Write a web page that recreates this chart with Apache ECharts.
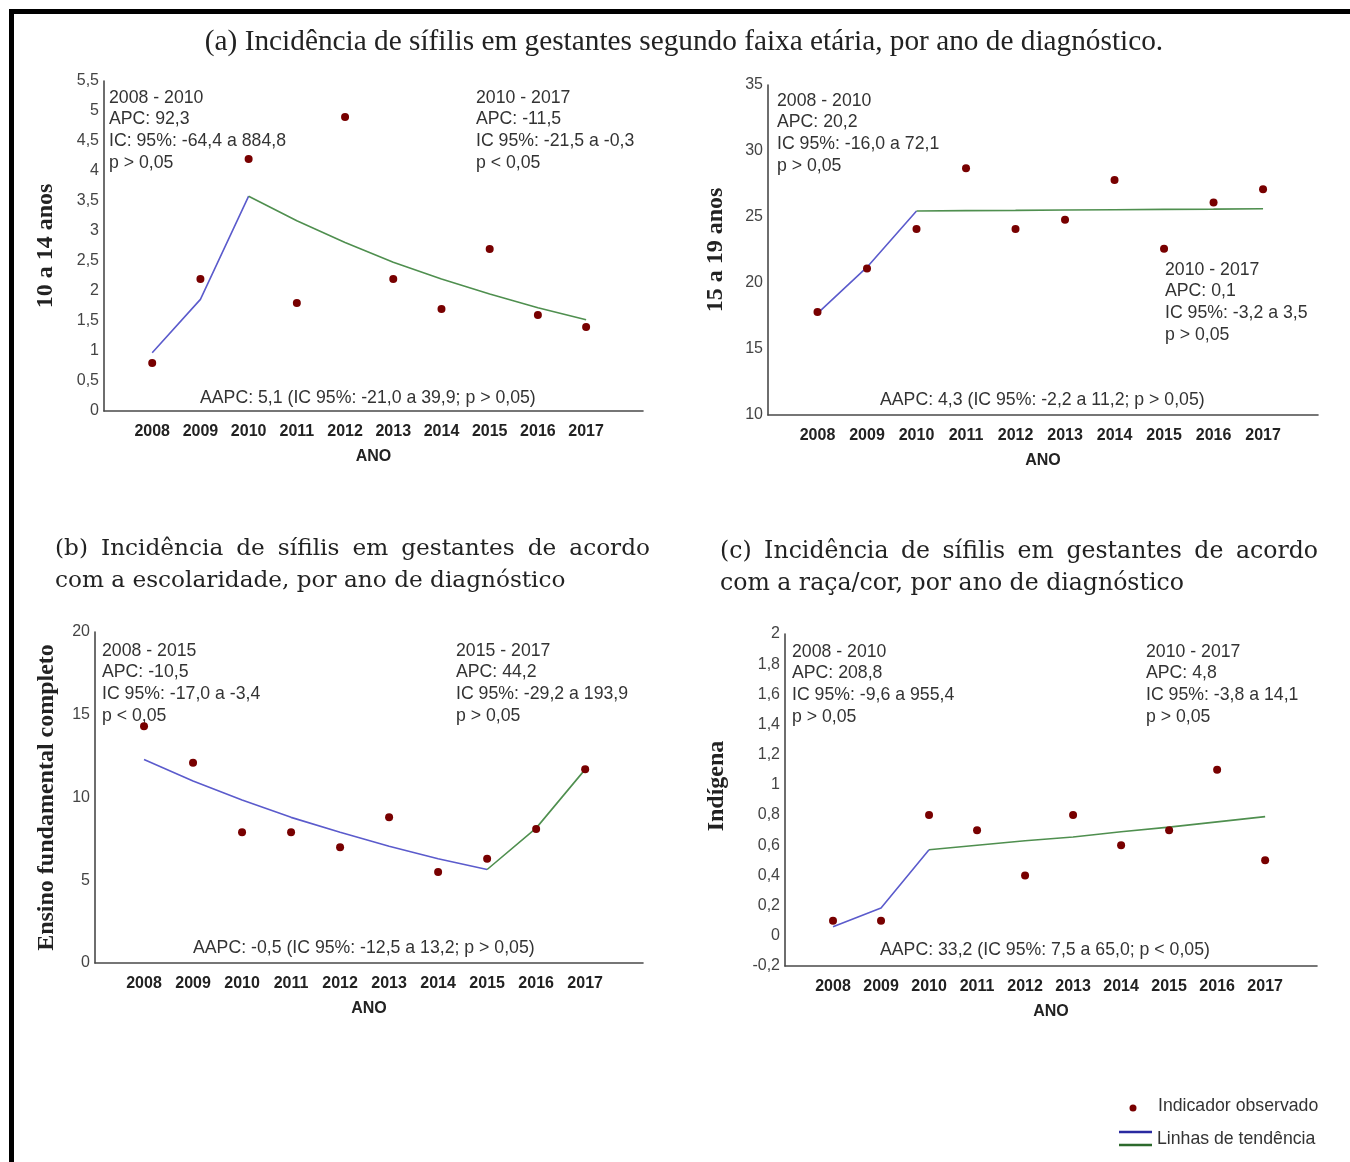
<!DOCTYPE html>
<html>
<head>
<meta charset="utf-8">
<title>Incidência de sífilis em gestantes</title>
<script src="https://cdn.jsdelivr.net/npm/echarts@6/dist/echarts.min.js"></script>
<style>
	html, body { margin: 0; padding: 0; background: #fff; }
	#chart { width: 1350px; height: 1162px; }
</style>
</head>
<body>
<div id="chart"></div>
<script>
// anos de diagnóstico
var years = [2008, 2009, 2010, 2011, 2012, 2013, 2014, 2015, 2016, 2017];
var yearLabels = ['2008', '2009', '2010', '2011', '2012', '2013', '2014', '2015', '2016', '2017'];

// (a) 10 a 14 anos
var idade1014 = [0.8, 2.2, 4.2, 1.8, 4.9, 2.2, 1.7, 2.7, 1.6, 1.4];
var idade1014TrendA = [0.97, 1.86, 3.58];                                  // 2008 - 2010
var idade1014TrendB = [3.58, 3.17, 2.81, 2.48, 2.2, 1.95, 1.72, 1.52];     // 2010 - 2017

// (a) 15 a 19 anos
var idade1519 = [17.8, 21.1, 24.1, 28.7, 24.1, 24.8, 27.8, 22.6, 26.1, 27.1];
var idade1519TrendA = [17.7, 21.2, 25.45];
var idade1519TrendB = [25.45, 25.48, 25.5, 25.53, 25.55, 25.58, 25.6, 25.63];

// (b) ensino fundamental completo
var fundamental = [14.3, 12.1, 7.9, 7.9, 7.0, 8.8, 5.5, 6.3, 8.1, 11.7];
var fundamentalTrendA = [12.3, 11.0, 9.85, 8.8, 7.9, 7.05, 6.3, 5.65];     // 2008 - 2015
var fundamentalTrendB = [5.65, 8.15, 11.7];                               // 2015 - 2017

// (c) indígena
var indigena = [0.1, 0.1, 0.8, 0.7, 0.4, 0.8, 0.6, 0.7, 1.1, 0.5];
var indigenaTrendA = [0.06, 0.185, 0.57];
var indigenaTrendB = [0.57, 0.6, 0.63, 0.655, 0.69, 0.72, 0.755, 0.79];

// textos dos segmentos
var notes1014 = {
	left: ['2008 - 2010', 'APC: 92,3', 'IC: 95%: -64,4 a 884,8', 'p > 0,05'],
	right: ['2010 - 2017', 'APC: -11,5', 'IC 95%: -21,5 a -0,3', 'p < 0,05'],
	aapc: 'AAPC: 5,1 (IC 95%: -21,0 a 39,9; p > 0,05)'
};
var notes1519 = {
	left: ['2008 - 2010', 'APC: 20,2', 'IC 95%: -16,0 a 72,1', 'p > 0,05'],
	right: ['2010 - 2017', 'APC: 0,1', 'IC 95%: -3,2 a 3,5', 'p > 0,05'],
	aapc: 'AAPC: 4,3 (IC 95%: -2,2 a 11,2; p > 0,05)'
};
var notesFund = {
	left: ['2008 - 2015', 'APC: -10,5', 'IC 95%: -17,0 a -3,4', 'p < 0,05'],
	right: ['2015 - 2017', 'APC: 44,2', 'IC 95%: -29,2 a 193,9', 'p > 0,05'],
	aapc: 'AAPC: -0,5 (IC 95%: -12,5 a 13,2; p > 0,05)'
};
var notesInd = {
	left: ['2008 - 2010', 'APC: 208,8', 'IC 95%: -9,6 a 955,4', 'p > 0,05'],
	right: ['2010 - 2017', 'APC: 4,8', 'IC 95%: -3,8 a 14,1', 'p > 0,05'],
	aapc: 'AAPC: 33,2 (IC 95%: 7,5 a 65,0; p < 0,05)'
};

var titleA = '(a) Incidência de sífilis em gestantes segundo faixa etária, por ano de diagnóstico.';
var titleB = ['(b) Incidência de sífilis em gestantes de acordo', 'com a escolaridade, por ano de diagnóstico'];
var titleC = ['(c) Incidência de sífilis em gestantes de acordo', 'com a raça/cor, por ano de diagnóstico'];
var legendLabels = ['Indicador observado', 'Linhas de tendência'];

(function(){
	var DOT = '#780000', BLUE = '#5b5bcc', GREEN = '#4f8f4f';
	var SANS = '"Liberation Sans", Arial, sans-serif';
	var SERIF = '"Liberation Serif", "Times New Roman", serif';
	var BOOK = '"DejaVu Serif", serif';
	var NOTE_FONT = '17.7px ' + SANS;

	var measureCtx = document.createElement('canvas').getContext('2d');
	function measure(str, font){
		measureCtx.font = font;
		return measureCtx.measureText(str).width;
	}
	// tamanho de fonte que faz o texto ocupar a largura pedida
	function fitSize(str, family, weight, width){
		return Math.round(20 * width / measure(str, weight + ' 20px ' + family) * 10) / 10;
	}

	function txt(str, x, y, font, fill, align){
		return {
			type: 'text', silent: true,
			style: {
				text: str, x: x, y: y, font: font, fill: fill || '#333',
				align: align || 'left', textAlign: align || 'left',
				verticalAlign: 'middle', textVerticalAlign: 'middle'
			}
		};
	}
	function noteBlock(lines, x, y0){
		return lines.map(function(l, i){ return txt(l, x, y0 + i * 21.6, NOTE_FONT, '#333'); });
	}
	function justified(str, font, x0, x1, y){
		var words = str.split(' ');
		var widths = words.map(function(w){ return measure(w, font); });
		var sum = widths.reduce(function(a, b){ return a + b; }, 0);
		var gap = (x1 - x0 - sum) / (words.length - 1);
		var x = x0, out = [];
		words.forEach(function(w, i){
			out.push(txt(w, x, y, font, '#222'));
			x += widths[i] + gap;
		});
		return out;
	}
	function pairs(xs, ys){
		return ys.map(function(v, i){ return [xs[i], v]; });
	}
	function comma(v){
		return String(Math.round(v * 10) / 10).replace('.', ',');
	}

	var panels = [
		{ grid: { left: 104, top: 81, width: 539, height: 330 }, xmax: 2018.18, y: [0, 5.5, 0.5], name: '10 a 14 anos', nameGap: 46, namePad: 0,
		  obs: idade1014, a: idade1014TrendA, b: idade1014TrendB, split: 3 },
		{ grid: { left: 768, top: 85, width: 550, height: 330 }, xmax: 2018.11, y: [10, 35, 5], name: '15 a 19 anos', nameGap: 40, namePad: 0,
		  obs: idade1519, a: idade1519TrendA, b: idade1519TrendB, split: 3 },
		{ grid: { left: 95, top: 632, width: 548, height: 331 }, xmax: 2018.18, y: [0, 20, 5], name: 'Ensino fundamental completo', nameGap: 36, namePad: 0,
		  obs: fundamental, a: fundamentalTrendA, b: fundamentalTrendB, split: 8 },
		{ grid: { left: 785, top: 634, width: 532, height: 332 }, xmax: 2018.08, y: [-0.2, 2, 0.2], name: 'Indígena', nameGap: 56, namePad: 28,
		  obs: indigena, a: indigenaTrendA, b: indigenaTrendB, split: 3 }
	];

	var grids = [], xAxes = [], yAxes = [], series = [];
	panels.forEach(function(p, i){
		grids.push(Object.assign({ outerBoundsMode: 'none', containLabel: false }, p.grid));
		xAxes.push({
			type: 'value', gridIndex: i, min: 2007, max: p.xmax, interval: 1,
			axisLine: { show: true, onZero: false, lineStyle: { color: '#4a4a4a', width: 1.6 } },
			axisTick: { show: false }, splitLine: { show: false },
			axisLabel: {
				margin: 13, fontSize: 16, fontWeight: 'bold', fontFamily: SANS, color: '#222',
				showMinLabel: true, showMaxLabel: true,
				formatter: function(v){ var k = years.indexOf(v); return k < 0 ? '' : yearLabels[k]; }
			},
			name: 'ANO', nameLocation: 'middle', nameGap: 38,
			nameTextStyle: { fontSize: 16, fontWeight: 'bold', fontFamily: SANS, color: '#222' }
		});
		yAxes.push({
			type: 'value', gridIndex: i, min: p.y[0], max: p.y[1], interval: p.y[2],
			axisLine: { show: true, onZero: false, lineStyle: { color: '#4a4a4a', width: 1.6 } },
			axisTick: { show: false }, splitLine: { show: false },
			axisLabel: { margin: 5, fontSize: 16, fontFamily: SANS, color: '#444', formatter: comma },
			name: p.name, nameLocation: 'middle', nameGap: p.nameGap,
			nameTextStyle: { fontSize: 24, fontWeight: 'bold', fontFamily: SERIF, color: '#222', padding: [0, 0, 0, p.namePad] }
		});
		series.push({
			type: 'line', xAxisIndex: i, yAxisIndex: i, showSymbol: false, silent: true,
			lineStyle: { color: BLUE, width: 1.6 }, data: pairs(years, p.a)
		});
		series.push({
			type: 'line', xAxisIndex: i, yAxisIndex: i, showSymbol: false, silent: true,
			lineStyle: { color: GREEN, width: 1.6 }, data: pairs(years.slice(p.split - 1), p.b)
		});
		series.push({
			type: 'scatter', xAxisIndex: i, yAxisIndex: i, symbolSize: 8, z: 5,
			itemStyle: { color: DOT, opacity: 1 }, data: pairs(years, p.obs)
		});
	});

	// títulos
	var sizeA = fitSize(titleA, SERIF, 'normal', 958);
	var sizeB = fitSize(titleB[1], BOOK, 'normal', 510);
	var sizeC = fitSize(titleC[1], BOOK, 'normal', 465);
	var fontA = 'normal ' + sizeA + 'px ' + SERIF;
	var fontB = 'normal ' + sizeB + 'px ' + BOOK;
	var fontC = 'normal ' + sizeC + 'px ' + BOOK;

	var graphics = [
		{ type: 'rect', silent: true, shape: { x: 9, y: 9, width: 1341, height: 5 }, style: { fill: '#000' } },
		{ type: 'rect', silent: true, shape: { x: 9, y: 9, width: 5, height: 1153 }, style: { fill: '#000' } },
		txt(titleA, 684, 42, fontA, '#222', 'center'),
		txt(titleB[1], 55, 581, fontB, '#222'),
		txt(titleC[1], 720, 584, fontC, '#222')
	];
	graphics = graphics
		.concat(justified(titleB[0], fontB, 55, 650, 549))
		.concat(justified(titleC[0], fontC, 720, 1318, 552))
		.concat(noteBlock(notes1014.left, 109, 98))
		.concat(noteBlock(notes1014.right, 476, 98))
		.concat([txt(notes1014.aapc, 200, 398, NOTE_FONT)])
		.concat(noteBlock(notes1519.left, 777, 101))
		.concat(noteBlock(notes1519.right, 1165, 270))
		.concat([txt(notes1519.aapc, 880, 400, NOTE_FONT)])
		.concat(noteBlock(notesFund.left, 102, 651))
		.concat(noteBlock(notesFund.right, 456, 651))
		.concat([txt(notesFund.aapc, 193, 948, NOTE_FONT)])
		.concat(noteBlock(notesInd.left, 792, 652))
		.concat(noteBlock(notesInd.right, 1146, 652))
		.concat([txt(notesInd.aapc, 880, 950, NOTE_FONT)]);

	// legenda
	graphics.push({ type: 'circle', silent: true, shape: { cx: 1133, cy: 1108, r: 3.5 }, style: { fill: DOT } });
	graphics.push(txt(legendLabels[0], 1158, 1106, NOTE_FONT, '#333'));
	graphics.push({ type: 'line', silent: true, shape: { x1: 1119, y1: 1132, x2: 1152, y2: 1132 }, style: { stroke: '#2a2aa0', lineWidth: 2.5 } });
	graphics.push({ type: 'line', silent: true, shape: { x1: 1119, y1: 1145, x2: 1152, y2: 1145 }, style: { stroke: '#2d6a2d', lineWidth: 2.5 } });
	graphics.push(txt(legendLabels[1], 1157, 1139, NOTE_FONT, '#333'));

	var chart = echarts.init(document.getElementById('chart'), null, { renderer: 'canvas' });
	chart.setOption({
		backgroundColor: '#fff',
		animation: false,
		grid: grids,
		xAxis: xAxes,
		yAxis: yAxes,
		series: series,
		graphic: { elements: graphics }
	});
})();
</script>
</body>
</html>
